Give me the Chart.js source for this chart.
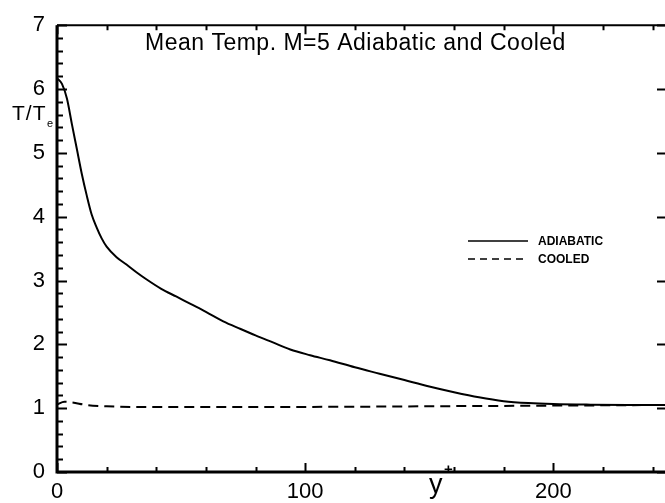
<!DOCTYPE html>
<html>
<head>
<meta charset="utf-8">
<script src="https://cdn.jsdelivr.net/npm/chart.js@4"></script>
<style>
  html, body { margin: 0; padding: 0; background: #fff; }
  canvas { display: block; }
</style>
</head>
<body>
<canvas id="tempChart" width="665" height="503"></canvas>
<script>
// mean temperature profiles, y+ vs T/Te
const adiabaticX = [0, 2, 4, 6, 8, 10, 12, 14, 16, 18, 20, 24, 28, 32, 36, 42, 48, 54, 60, 67, 74, 80, 87, 94, 102, 110, 120, 130, 140, 150, 160, 170, 180, 190, 200, 215, 230, 245];
const adiabaticY = [6.17, 6.08, 5.85, 5.45, 5.06, 4.67, 4.33, 4.03, 3.83, 3.66, 3.53, 3.365, 3.25, 3.13, 3.02, 2.87, 2.75, 2.63, 2.51, 2.36, 2.24, 2.14, 2.03, 1.92, 1.83, 1.75, 1.64, 1.54, 1.44, 1.34, 1.25, 1.17, 1.11, 1.08, 1.065, 1.055, 1.05, 1.05];
const cooledX = [0, 3, 6, 12, 20, 30, 60, 100, 150, 200, 245];
const cooledY = [1.06, 1.10, 1.09, 1.05, 1.03, 1.02, 1.02, 1.02, 1.03, 1.04, 1.05];
const seriesNames = ['ADIABATIC', 'COOLED'];
const xTickLabels = [0, 100, 200];
const yTickLabels = [0, 1, 2, 3, 4, 5, 6, 7];

const FONT = "'Liberation Sans', Arial, Helvetica, sans-serif";

function toPoints(xs, ys) {
    return xs.map((x, i) => ({ x: x, y: ys[i] }));
}

// frame, inward ticks, title, axis titles and legend
const framePlugin = {
    id: 'frame',
    afterDraw(chart) {
        const ctx = chart.ctx;
        const area = chart.chartArea;
        const xs = chart.scales.x;
        const ys = chart.scales.y;
        ctx.save();
        ctx.strokeStyle = '#000';
        ctx.lineCap = 'butt';

        // axis lines
        ctx.lineWidth = 3;
        ctx.beginPath();
        ctx.moveTo(area.left, area.top);
        ctx.lineTo(area.left, area.bottom);
        ctx.lineTo(area.right, area.bottom);
        ctx.stroke();
        ctx.lineWidth = 2;
        ctx.beginPath();
        ctx.moveTo(area.left, area.top);
        ctx.lineTo(area.right, area.top);
        ctx.stroke();

        // y ticks every 0.2, majors at integers
        ctx.lineWidth = 2;
        for (let i = 0; i <= 35; i++) {
            const v = i * 0.2;
            const py = Math.round(ys.getPixelForValue(v)) + 0.5;
            const major = i % 5 === 0;
            ctx.beginPath();
            ctx.moveTo(area.left, py);
            ctx.lineTo(area.left + (major ? 10 : 6), py);
            ctx.stroke();
            if (major) {
                ctx.beginPath();
                ctx.moveTo(area.right, py);
                ctx.lineTo(area.right - 8, py);
                ctx.stroke();
            }
        }

        // x ticks every 20, majors every 100
        for (let v = 0; v <= xs.max; v += 20) {
            const px = Math.round(xs.getPixelForValue(v)) + 0.5;
            const major = v % 100 === 0;
            const len = major ? 9 : 5;
            ctx.beginPath();
            ctx.moveTo(px, area.bottom);
            ctx.lineTo(px, area.bottom - len);
            ctx.moveTo(px, area.top);
            ctx.lineTo(px, area.top + len);
            ctx.stroke();
        }

        ctx.fillStyle = '#000';
        ctx.textBaseline = 'alphabetic';
        ctx.textAlign = 'left';

        // title
        ctx.font = '23px ' + FONT;
        ctx.letterSpacing = '0.5px';
        ctx.fillText('Mean Temp. M=5 Adiabatic and Cooled', 145, 50);

        // y axis title T/Te
        ctx.font = '21px ' + FONT;
        ctx.letterSpacing = '1px';
        ctx.fillText('T/T', 12, 120);
        ctx.letterSpacing = '0px';
        ctx.font = '11px ' + FONT;
        ctx.fillText('e', 47, 127);

        // x axis title y+
        ctx.font = '27px ' + FONT;
        ctx.fillText('y', 429, 493);
        ctx.font = 'bold 15px ' + FONT;
        ctx.fillText('+', 444, 474);

        // legend
        const items = chart.data.datasets;
        const lx0 = 468, lx1 = 528;
        items.forEach((ds, i) => {
            const ly = 241 + i * 18;
            ctx.lineWidth = 1.5;
            ctx.setLineDash(ds.borderDash ? [7, 5] : []);
            ctx.beginPath();
            ctx.moveTo(lx0, ly);
            ctx.lineTo(lx1, ly);
            ctx.stroke();
            ctx.setLineDash([]);
            ctx.font = 'bold 12px ' + FONT;
            ctx.fillText(ds.label, 538, ly + 4);
        });

        ctx.restore();
    }
};

const chart = new Chart(document.getElementById('tempChart'), {
    type: 'line',
    data: {
        datasets: [
            {
                label: seriesNames[0],
                data: toPoints(adiabaticX, adiabaticY),
                borderColor: '#000',
                borderWidth: 2,
                pointRadius: 0,
                cubicInterpolationMode: 'monotone',
                fill: false
            },
            {
                label: seriesNames[1],
                data: toPoints(cooledX, cooledY),
                borderColor: '#000',
                borderWidth: 2,
                borderDash: [10, 6],
                pointRadius: 0,
                cubicInterpolationMode: 'monotone',
                fill: false
            }
        ]
    },
    options: {
        responsive: false,
        animation: false,
        layout: { padding: { top: 16, right: 0, left: 0, bottom: 0 } },
        plugins: {
            legend: { display: false },
            tooltip: { enabled: false },
            title: { display: false }
        },
        scales: {
            x: {
                type: 'linear',
                min: 0,
                max: 245,
                grid: { display: false, drawTicks: false },
                border: { display: false },
                afterFit: (scale) => { scale.height = 31; },
                afterBuildTicks: (scale) => {
                    scale.ticks = xTickLabels.map(v => ({ value: v }));
                },
                ticks: {
                    padding: 7,
                    color: '#000',
                    maxRotation: 0,
                    font: { size: 22, family: FONT }
                }
            },
            y: {
                type: 'linear',
                min: 0,
                max: 7,
                grid: { display: false, drawTicks: false },
                border: { display: false },
                afterFit: (scale) => { scale.width = 57; },
                afterBuildTicks: (scale) => {
                    scale.ticks = yTickLabels.map(v => ({ value: v }));
                },
                ticks: {
                    padding: 12,
                    color: '#000',
                    font: { size: 22, family: FONT }
                }
            }
        }
    },
    plugins: [framePlugin]
});
</script>
</body>
</html>
